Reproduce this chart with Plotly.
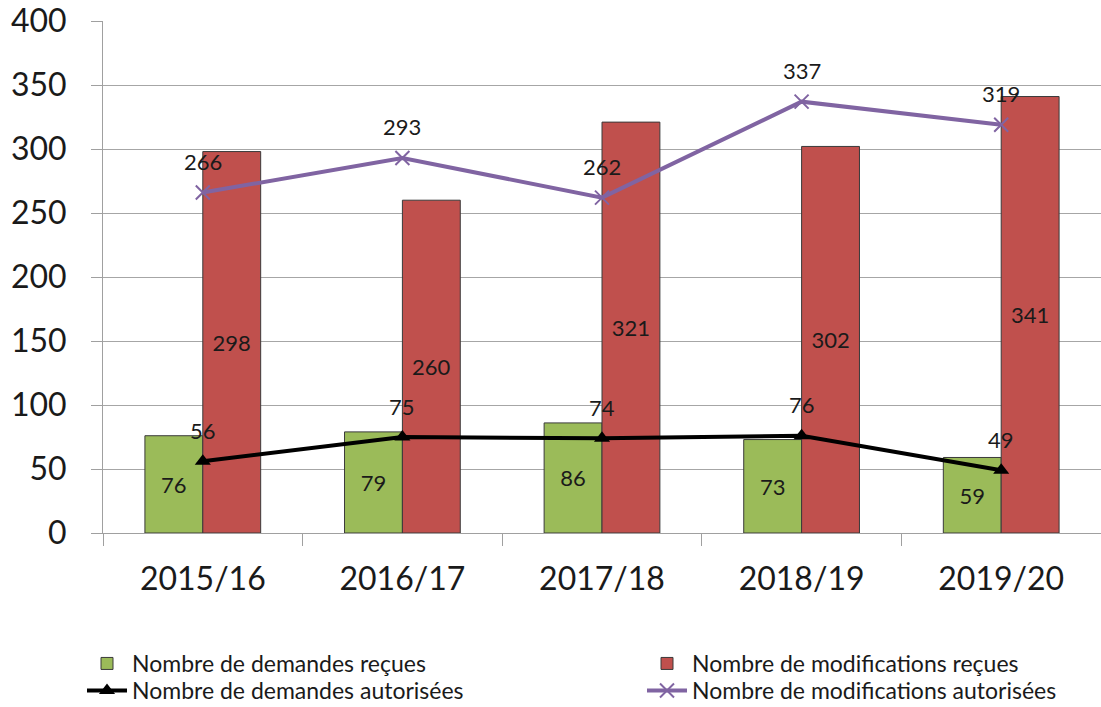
import plotly.graph_objects as go

categories = ["2015/16", "2016/17", "2017/18", "2018/19", "2019/20"]
demandes_recues = [76, 79, 86, 73, 59]
modifications_recues = [298, 260, 321, 302, 341]
demandes_autorisees = [56, 75, 74, 76, 49]
modifications_autorisees = [266, 293, 262, 337, 319]

FONT = "Lato"
W, H = 1101, 707
LBL = 22
fig = go.Figure()
fig.add_trace(go.Bar(
    x=categories, y=demandes_recues, name="Nombre de demandes reçues",
    marker=dict(color="#9BBB59", line=dict(color="#3a3a3a", width=1)),
    text=demandes_recues, textposition="inside", insidetextanchor="middle",
    textfont=dict(size=LBL, color="#1a1a1a", family=FONT), textangle=0,
    legend="legend",
))
fig.add_trace(go.Bar(
    x=categories, y=modifications_recues, name="Nombre de modifications reçues",
    marker=dict(color="#C0504D", line=dict(color="#3a3a3a", width=1)),
    text=modifications_recues, textposition="inside", insidetextanchor="middle",
    textfont=dict(size=LBL, color="#1a1a1a", family=FONT), textangle=0,
    legend="legend2",
))
fig.add_trace(go.Scatter(
    x=categories, y=demandes_autorisees, name="Nombre de demandes autorisées",
    mode="lines+markers", line=dict(color="#000000", width=4),
    marker=dict(symbol="triangle-up", size=14, color="#000000"),
    legend="legend3",
))
fig.add_trace(go.Scatter(
    x=categories, y=modifications_autorisees, name="Nombre de modifications autorisées",
    mode="lines+markers", line=dict(color="#8064A2", width=4),
    marker=dict(symbol="x-thin", size=14, line=dict(color="#8064A2", width=2)),
    legend="legend4",
))

# data labels above the line points
for series in (demandes_autorisees, modifications_autorisees):
    for cat, val in zip(categories, series):
        fig.add_annotation(
            x=cat, y=val, text=str(val), showarrow=False,
            xanchor="center", yanchor="middle", yshift=31,
            font=dict(size=LBL, color="#1a1a1a", family=FONT),
        )

leg_common = dict(
    orientation="v", xanchor="left", yanchor="top",
    xref="container", yref="container",
    font=dict(size=23, family=FONT, color="#1a1a1a"),
    tracegroupgap=0, itemwidth=40, bgcolor="rgba(0,0,0,0)",
)

fig.update_layout(
    width=W, height=H,
    margin=dict(l=103, r=0, t=21, b=174, autoexpand=False),
    paper_bgcolor="white", plot_bgcolor="white",
    barmode="group", bargap=0.42, bargroupgap=0,
    font=dict(family=FONT, color="#1a1a1a"),
    showlegend=True,
    legend=dict(x=82 / W, y=1 - 642 / H, **leg_common),
    legend2=dict(x=642 / W, y=1 - 642 / H, **leg_common),
    legend3=dict(x=82 / W, y=1 - 669 / H, **leg_common),
    legend4=dict(x=642 / W, y=1 - 669 / H, **leg_common),
    xaxis=dict(
        showgrid=False, showline=True, linecolor="#a0a0a0", linewidth=1,
        ticks="outside", tickson="boundaries", ticklen=12, tickcolor="#a0a0a0",
        tickfont=dict(size=32, family=FONT, color="#1a1a1a"),
        ticklabelstandoff=18,
    ),
    yaxis=dict(
        range=[0, 400], dtick=50, showgrid=True, gridcolor="#a6a6a6", gridwidth=1,
        showline=True, linecolor="#a0a0a0", linewidth=1,
        ticks="outside", ticklen=11, tickcolor="#a0a0a0",
        tickfont=dict(size=32, family=FONT, color="#1a1a1a"),
        zeroline=False, ticklabelstandoff=18,
    ),
)

fig.write_html("out.html", config={"displayModeBar": False},
               post_script="document.body.style.margin='0';")
